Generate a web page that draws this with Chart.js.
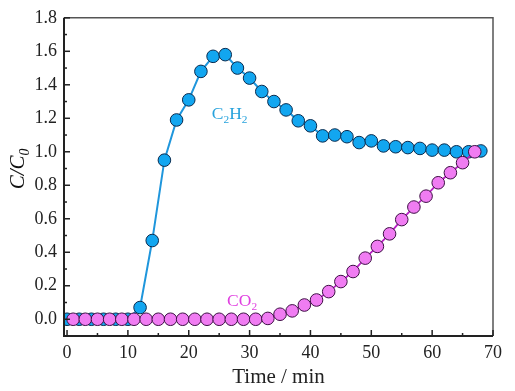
<!DOCTYPE html>
<html>
<head>
<meta charset="utf-8">
<script src="https://cdn.jsdelivr.net/npm/chart.js@4.4.0/dist/chart.umd.min.js"></script>
<style>
  body { margin: 0; background: #fff; }
  #wrap { width: 515px; height: 391px; }
</style>
</head>
<body>
<div id="wrap"><canvas id="chart" width="515" height="391"></canvas></div>
<script>
// time axis (min)
const c2h2Time = [0, 2, 4, 6, 8, 10, 12, 14, 16, 18, 20, 22, 24, 26, 28, 30, 32, 34,
    36, 38, 40, 42, 44, 46, 48, 50, 52, 54, 56, 58, 60, 62, 64, 66, 68];
const c2h2Values = [0, 0, 0, 0, 0, 0, 0.07, 0.47, 0.95, 1.19, 1.31, 1.48, 1.57, 1.58, 1.50, 1.44, 1.36, 1.30,
    1.25, 1.185, 1.155, 1.095, 1.10, 1.09, 1.055, 1.065, 1.035, 1.03, 1.025, 1.02, 1.01, 1.01, 1.0, 1.0, 1.005];

const co2Time = [1, 3, 5, 7, 9, 11, 13, 15, 17, 19, 21, 23, 25, 27, 29, 31, 33,
    35, 37, 39, 41, 43, 45, 47, 49, 51, 53, 55, 57, 59, 61, 63, 65, 67];
const co2Values = [0, 0, 0, 0, 0, 0, 0, 0, 0, 0, 0, 0, 0, 0, 0, 0, 0.005,
    0.03, 0.05, 0.085, 0.115, 0.165, 0.225, 0.285, 0.365, 0.435, 0.51, 0.595, 0.67, 0.735, 0.815, 0.875, 0.935, 1.0];

const xTicks = [0, 10, 20, 30, 40, 50, 60, 70];
const yTicks = [0, 0.2, 0.4, 0.6, 0.8, 1.0, 1.2, 1.4, 1.6, 1.8];

const serif = '"Liberation Serif", "Times New Roman", serif';

function toPoints(xs, ys) {
    return xs.map((x, i) => ({ x: x, y: ys[i] }));
}

// text with subscript parts: [[text, isSub], ...]
function drawSubText(ctx, parts, x, y, size, color, italic) {
    let cx = x;
    ctx.fillStyle = color;
    ctx.textBaseline = 'alphabetic';
    ctx.textAlign = 'left';
    parts.forEach(([txt, sub]) => {
        const s = sub ? size * 0.65 : size;
        ctx.font = (italic ? 'italic ' : '') + s + 'px ' + serif;
        ctx.fillText(txt, cx, sub ? y + size * 0.22 : y);
        cx += ctx.measureText(txt).width;
    });
    return cx - x;
}

const decor = {
    id: 'decor',
    afterDraw(chart) {
        const ctx = chart.ctx;
        const a = chart.chartArea;
        const xs = chart.scales.x, ys = chart.scales.y;
        ctx.save();

        // frame
        ctx.strokeStyle = '#555';
        ctx.lineWidth = 1.5;
        ctx.beginPath();
        ctx.moveTo(a.left, a.top); ctx.lineTo(a.right, a.top); ctx.lineTo(a.right, a.bottom);
        ctx.stroke();
        ctx.strokeStyle = '#222';
        ctx.lineWidth = 2;
        ctx.beginPath();
        ctx.moveTo(a.left, a.top); ctx.lineTo(a.left, a.bottom); ctx.lineTo(a.right, a.bottom);
        ctx.stroke();

        // inward ticks
        ctx.lineWidth = 1.5;
        for (let v = 0; v <= 70; v += 5) {
            const px = xs.getPixelForValue(v);
            const len = v % 10 === 0 ? 6 : 3;
            ctx.beginPath(); ctx.moveTo(px, a.bottom); ctx.lineTo(px, a.bottom - len); ctx.stroke();
        }
        for (let i = -1; i <= 18; i++) {
            const py = ys.getPixelForValue(i / 10);
            const len = i % 2 === 0 ? 6 : 3;
            ctx.beginPath(); ctx.moveTo(a.left, py); ctx.lineTo(a.left + len, py); ctx.stroke();
        }

        // series labels
        drawSubText(ctx, [['C', false], ['2', true], ['H', false], ['2', true]],
            xs.getPixelForValue(23.8), ys.getPixelForValue(1.195), 17.5, '#27a2dc', false);
        drawSubText(ctx, [['CO', false], ['2', true]],
            xs.getPixelForValue(26.3), ys.getPixelForValue(0.08), 17.5, '#e040e0', false);

        // y title, rotated
        ctx.translate(24, 169);
        ctx.rotate(-Math.PI / 2);
        ctx.font = 'italic 21px ' + serif;
        const w = ctx.measureText('C/C').width + ctx.measureText('0').width * 0.65;
        drawSubText(ctx, [['C/C', false], ['0', true]], -w / 2, 0, 21, '#111', true);
        ctx.restore();
    }
};

new Chart(document.getElementById('chart'), {
    type: 'scatter',
    data: {
        datasets: [
            {
                label: 'CO2',
                data: toPoints(co2Time, co2Values),
                showLine: true,
                borderColor: '#b81fc4',
                borderWidth: 1.8,
                pointBackgroundColor: '#f07cf2',
                pointBorderColor: '#3d1044',
                pointBorderWidth: 1,
                pointRadius: 6.3,
                tension: 0
            },
            {
                label: 'C2H2',
                data: toPoints(c2h2Time, c2h2Values),
                showLine: true,
                borderColor: '#1f96dc',
                borderWidth: 2,
                pointBackgroundColor: '#12a6f0',
                pointBorderColor: '#0b2b4e',
                pointBorderWidth: 1,
                pointRadius: 6.3,
                tension: 0
            }
        ]
    },
    options: {
        responsive: false,
        animation: false,
        layout: { padding: { left: 0, top: 17, right: 22, bottom: 0 } },
        plugins: {
            legend: { display: false },
            tooltip: { enabled: false }
        },
        scales: {
            x: {
                type: 'linear',
                min: -0.5,
                max: 70,
                grid: { display: false, drawTicks: false },
                border: { display: false },
                afterBuildTicks: s => { s.ticks = xTicks.map(v => ({ value: v })); },
                afterFit: s => { s.height = 55; },
                ticks: {
                    padding: 6,
                    color: '#222',
                    font: { family: serif, size: 18 },
                    maxRotation: 0
                },
                title: {
                    display: true,
                    text: 'Time / min',
                    color: '#222',
                    font: { family: serif, size: 21 },
                    padding: { top: 0, bottom: 1 }
                }
            },
            y: {
                min: -0.1,
                max: 1.8,
                grid: { display: false, drawTicks: false },
                border: { display: false },
                afterBuildTicks: s => { s.ticks = yTicks.map(v => ({ value: v })); },
                afterFit: s => { s.width = 64; },
                ticks: {
                    padding: 7,
                    color: '#222',
                    font: { family: serif, size: 18 },
                    callback: v => v.toFixed(1)
                }
            }
        }
    },
    plugins: [decor]
});
</script>
</body>
</html>
